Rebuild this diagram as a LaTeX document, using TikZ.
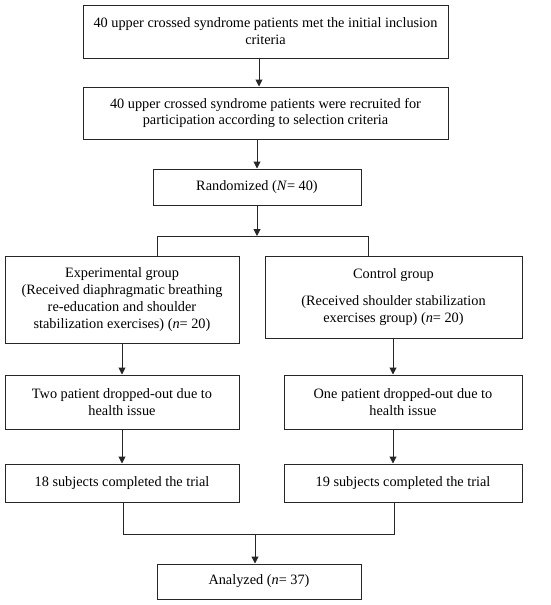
\documentclass[tikz,border=0pt]{standalone}
\usepackage{fontspec}
\setmainfont{Liberation Serif}
\usetikzlibrary{arrows.meta}
\begin{document}
\begin{tikzpicture}[x=1pt,y=-1pt,
  box/.style={draw=black!85,line width=1pt,inner sep=0pt,align=center,
    font=\fontsize{14.3}{16.9}\selectfont},
  conn/.style={draw=black!85,line width=1pt},
  arr/.style={conn,-{Triangle[length=7pt,width=7pt]}}]
\useasboundingbox (0,0) rectangle (550,605);
\node[box,minimum width=365pt,minimum height=53pt] (b1) at (265.5,31.5)
  {40 upper crossed syndrome patients met the initial inclusion\\criteria};
\node[box,minimum width=365pt,minimum height=52pt] (b2) at (265.5,113)
  {40 upper crossed syndrome patients were recruited for\\participation according to selection criteria};
\node[box,minimum width=208pt,minimum height=36pt] (b3) at (257,187)
  {Randomized (\textit{N}= 40)};
\node[box,minimum width=234pt,minimum height=87pt] (b4) at (122,299.5)
  {Experimental group\\(Received diaphragmatic breathing\\re-education and shoulder\\stabilization exercises) (\textit{n}= 20)};
\node[box,minimum width=257pt,minimum height=82pt] (b5) at (393.5,297)
  {Control group\\[10pt](Received shoulder stabilization\\exercises group) (\textit{n}= 20)};
\node[box,minimum width=234pt,minimum height=54pt] (b6) at (122,402)
  {Two patient dropped-out due to\\health issue};
\node[box,minimum width=238pt,minimum height=54pt] (b7) at (403,402)
  {One patient dropped-out due to\\health issue};
\node[box,minimum width=234pt,minimum height=38pt] (b8) at (122,483)
  {18 subjects completed the trial};
\node[box,minimum width=238pt,minimum height=38pt] (b9) at (403,483)
  {19 subjects completed the trial};
\node[box,minimum width=204pt,minimum height=35pt] (b10) at (259,581.5)
  {Analyzed (\textit{n}= 37)};
\coordinate (ax) at (259,0);
\coordinate (split) at (257,236);
\coordinate (sl) at (157,236);
\coordinate (sr) at (368,236);
\coordinate (rx) at (393,0);
\coordinate (jl) at (123,534);
\coordinate (jr) at (394,534);
\coordinate (jm) at (255,534);
\draw[arr] (b1.south -| ax) -- (b2.north -| ax);
\draw[arr] (b2.south -| b3) -- (b3.north);
\draw[arr] (b3.south) -- (split);
\draw[conn] (b4.north -| sl) -- (sl) -- (sr) -- (b5.north -| sr);
\draw[arr] (b4.south) -- (b6.north);
\draw[arr] (b5.south -| rx) -- (b7.north -| rx);
\draw[arr] (b6.south) -- (b8.north);
\draw[arr] (b7.south -| rx) -- (b9.north -| rx);
\draw[conn] (b8.south -| jl) -- (jl) -- (jr) -- (b9.south -| jr);
\draw[arr] (jm) -- (b10.north -| jm);
\end{tikzpicture}
\end{document}
